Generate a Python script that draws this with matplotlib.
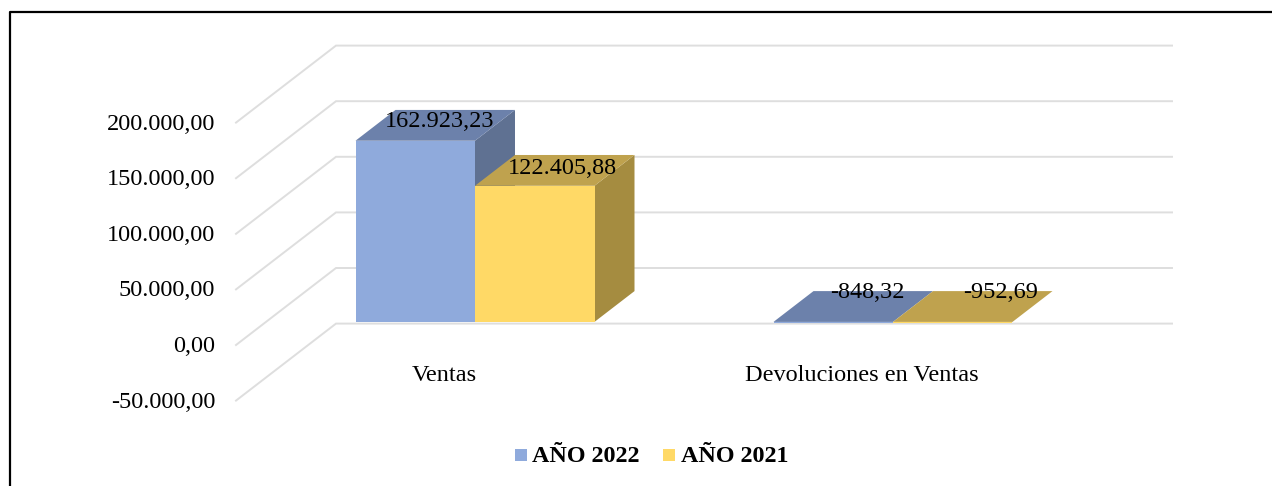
import matplotlib
matplotlib.use("Agg")
import matplotlib.pyplot as plt
from matplotlib.patches import Polygon, Rectangle

W, H = 1272, 486
categories = ["Ventas", "Devoluciones en Ventas"]
series_names = ["AÑO 2022", "AÑO 2021"]
values_2022 = [162923.23, -848.32]
values_2021 = [122405.88, -952.69]
value_labels_2022 = ["162.923,23", "-848,32"]
value_labels_2021 = ["122.405,88", "-952,69"]
y_ticks = [-50000, 0, 50000, 100000, 150000, 200000]
y_tick_labels = ["-50.000,00", "0,00", "50.000,00", "100.000,00", "150.000,00", "200.000,00"]

FRONT = ["#8FAADC", "#FFD966"]
TOP = ["#6C81AB", "#BFA24E"]
SIDE = ["#5F7192", "#A58C40"]
GRID = "#DEDEDE"
FONT = "Liberation Serif"

fig = plt.figure(figsize=(W / 100, H / 100), dpi=100, facecolor="white")
ax = fig.add_axes([0, 0, 1, 1])

# Back wall scale: x in category units, y in value units
X0, CAT_W = 336, 418
Y0, PX_PER = 268, 55.6 / 50000
ax.set_xlim(-X0 / CAT_W, (W - X0) / CAT_W)
ax.set_ylim((Y0 - H) / PX_PER, Y0 / PX_PER)
ax.axis("off")
dx_u, dy_u = 1 / CAT_W, 1 / PX_PER


def proj(x, v, d):
    """x in category units, v value, d depth offset in 0..1 (1 = front of wall)."""
    return x - 100 * d * dx_u, v - 77 * d * dy_u


# Walls
for t, lab in zip(y_ticks, y_tick_labels):
    ax.plot(*zip(proj(0, t, 1), proj(0, t, 0), proj(2, t, 0)), color=GRID, lw=1.4, zorder=1,
            solid_joinstyle="miter")
    x, y = proj(0, t, 1)
    ax.text(x - 21 * dx_u, y - 1.5 * dy_u, lab, family=FONT, fontsize=17.5,
            ha="right", va="center", color="black", zorder=6)

# Bars
BW = 239 / 418 / 2
D_F, D_B = 0.70, 0.30
for i, cat in enumerate(categories):
    start = i + (1 - 2 * BW) / 2
    lx, ly = proj(i + 0.5, 0, D_F)
    ax.text(lx - 31 * dx_u, ly - 54 * dy_u, cat, family=FONT, fontsize=17.5, ha="center", va="center", zorder=6)
    for s, vals in enumerate([values_2022, values_2021]):
        v = vals[i]
        a, b = start + s * BW, start + (s + 1) * BW
        top = max(v, 0)
        z = 3 + s
        ax.add_patch(Polygon([proj(b, 0, D_F), proj(b, 0, D_B), proj(b, top, D_B), proj(b, top, D_F)],
                             fc=SIDE[s], ec="none", zorder=z))
        ax.add_patch(Polygon([proj(a, top, D_F), proj(b, top, D_F), proj(b, top, D_B), proj(a, top, D_B)],
                             fc=TOP[s], ec="none", zorder=z))
        fx, fy = proj(a, v, D_F)
        wx = proj(b, v, D_F)[0] - fx
        ax.add_patch(Rectangle((fx, fy), wx, -v, fc=FRONT[s], ec="none", zorder=z))

# Data labels
label_pos_px = [[(440, 122), (562, 169)], [(867, 292), (1001, 292)]]
for i in range(2):
    for s, labs in enumerate([value_labels_2022, value_labels_2021]):
        px, py = label_pos_px[i][s]
        ax.text(-X0 / CAT_W + px * dx_u, (Y0 - py) * dy_u, labs[i], family=FONT, fontsize=17.5,
                ha="center", va="center", zorder=7)

# Legend
for name, color, sq_x, tx_x in zip(series_names, FRONT, [515, 663], [532, 681]):
    ax.add_patch(Rectangle((-X0 / CAT_W + sq_x * dx_u, (Y0 - 461) * dy_u), 11.5 * dx_u, 12 * dy_u,
                           fc=color, ec="none", zorder=6))
    ax.text(-X0 / CAT_W + tx_x * dx_u, (Y0 - 456.5) * dy_u, name, family=FONT, fontsize=17.4,
            fontweight="bold", ha="left", va="center", zorder=6)

# Outer frame: left and top edges only
fig.add_artist(plt.Line2D([9.5 / W, 9.5 / W, 1], [0, 1 - 12 / H, 1 - 12 / H],
                          color="black", lw=1.6, transform=fig.transFigure))

fig.savefig("out.png", dpi=100, facecolor="white")
